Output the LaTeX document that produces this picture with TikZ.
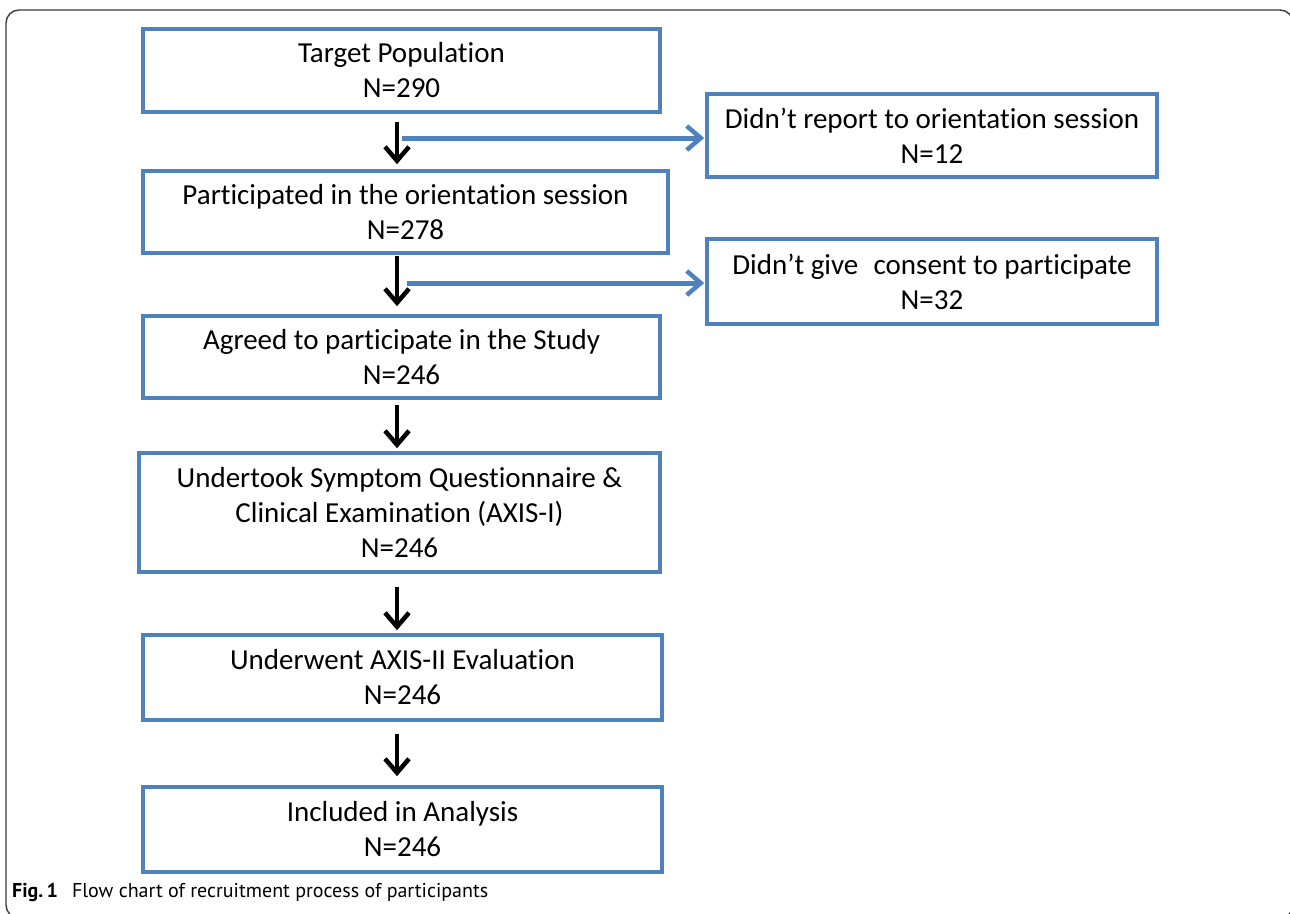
\documentclass[tikz,border=0pt]{standalone}
\usepackage{fontspec}
\setmainfont[Ligatures=NoCommon]{Carlito}
\newfontfamily\capfont{PT Sans}
\usetikzlibrary{arrows.meta}
\definecolor{boxblue}{RGB}{79,129,189}
\definecolor{framegray}{RGB}{60,60,60}
\begin{document}
\begin{tikzpicture}[x=1pt,y=-1pt,
  flowbox/.style={draw=boxblue,line width=3.6pt,align=center,inner sep=0pt,
    font=\fontsize{29}{35}\selectfont},
  mainarrow/.style={draw=black,line width=4.5pt,
    -{Straight Barb[length=14pt,width=24pt,line width=4.5pt]}},
  sidearrow/.style={draw=boxblue,line width=5pt,
    -{Straight Barb[length=14pt,width=24pt,line width=4.5pt]}},
  framestyle/.style={draw=framegray,line width=1.4pt,rounded corners=13pt}
]
\useasboundingbox (0,0) rectangle (1290,913);
\begin{scope}
\clip (0,0) rectangle (1290,913);
\draw[framestyle] (6,10) rectangle (1293,918);
\end{scope}

\node[flowbox,minimum width=517pt,minimum height=83pt] (b1) at (401.5,70.5) {Target Population\\N=290};
\node[flowbox,minimum width=525pt,minimum height=82pt] (b2) at (405.5,212) {Participated in the orientation session\\N=278};
\node[flowbox,minimum width=517pt,minimum height=82pt] (b3) at (401.5,357) {Agreed to participate in the Study\\N=246};
\node[flowbox,minimum width=521pt,minimum height=119pt] (b4) at (399.5,512.5) {Undertook Symptom Questionnaire \&\\Clinical Examination (AXIS-I)\\N=246};
\node[flowbox,minimum width=519pt,minimum height=85pt] (b5) at (402.5,677.5) {Underwent AXIS-II Evaluation\\N=246};
\node[flowbox,minimum width=519pt,minimum height=85pt] (b6) at (402.5,829.5) {Included in Analysis\\N=246};
\node[flowbox,minimum width=450pt,minimum height=83pt] (r1) at (932,135.5) {Didn’t report to orientation session\\N=12};
\node[flowbox,minimum width=450pt,minimum height=85pt] (r2) at (932,281.5) {Didn’t give\hspace{0.3em} consent to participate\\N=32};

\coordinate (ax) at (397,0);
\draw[mainarrow,shorten <=8pt,shorten >=5pt] (ax |- b1.south) -- (ax |- b2.north);
\draw[mainarrow,shorten <=1pt,shorten >=8pt] (ax |- b2.south) -- (ax |- b3.north);
\draw[mainarrow,shorten <=5pt,shorten >=3pt] (ax |- b3.south) -- (ax |- b4.north);
\draw[mainarrow,shorten <=13pt,shorten >=3pt] (ax |- b4.south) -- (ax |- b5.north);
\draw[mainarrow,shorten <=12pt,shorten >=9pt] (ax |- b5.south) -- (ax |- b6.north);

\coordinate (s1) at (402,138);
\coordinate (s2) at (407,283);
\draw[sidearrow,shorten >=1pt] (s1) -- (s1 -| r1.west);
\draw[sidearrow,shorten >=1pt] (s2) -- (s2 -| r2.west);

\node[anchor=base west,inner sep=0pt,font=\capfont\fontsize{20}{24}\selectfont] (cap) at (12,897)
  {\textbf{Fig.\,1}\hspace{0.7em}Flow chart of recruitment process of participants};
\end{tikzpicture}
\end{document}
